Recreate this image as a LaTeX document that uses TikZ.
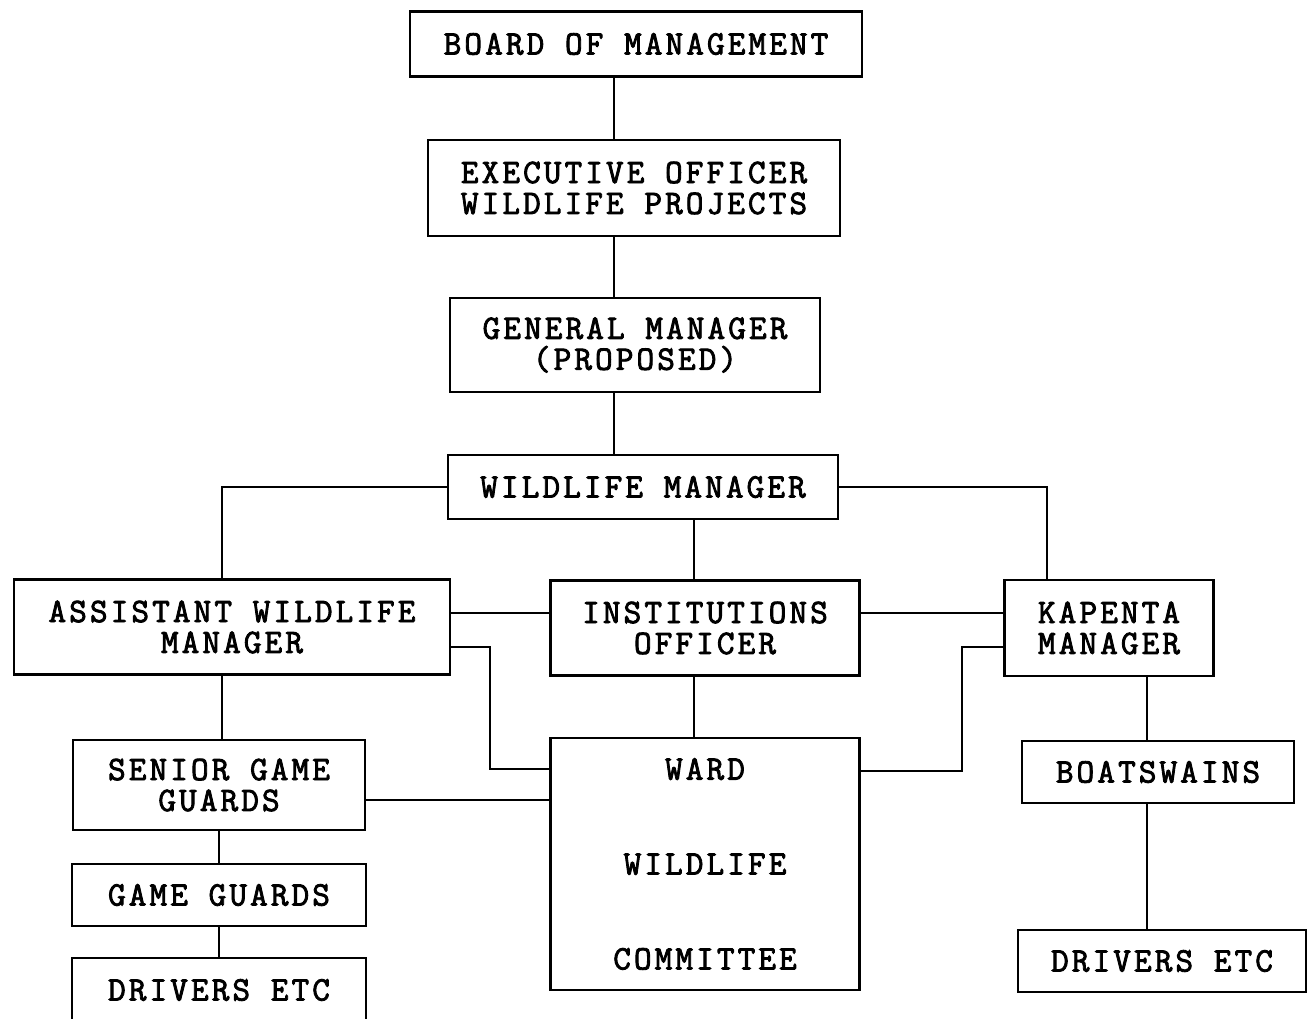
\documentclass[tikz,border=0pt]{standalone}
\usepackage{fontspec}
\newfontfamily\typewriter{Latin Modern Mono}[LetterSpace=9, FakeBold=2.5]
\newcommand{\chartfont}{\typewriter\fontsize{19.5}{17.6}\selectfont}

\begin{document}
\begin{tikzpicture}[
        x=0.02cm, y=-0.02cm,
        line width=1.2pt,
        box/.style = {rectangle, draw, inner sep=0pt, align=center, font=\chartfont}
    ]
    \useasboundingbox (0,0) rectangle (1311,1018);

    % Top of the chain
    \node[box, minimum width=9.04cm, minimum height=1.3cm] (board) at (636,44) {BOARD OF MANAGEMENT};
    \node[box, minimum width=8.24cm, minimum height=1.92cm] (exec) at (634,188) {EXECUTIVE OFFICER\\WILDLIFE PROJECTS};
    \node[box, minimum width=7.4cm, minimum height=1.88cm] (gm) at (635,345) {GENERAL MANAGER\\(PROPOSED)};
    \node[box, minimum width=7.8cm, minimum height=1.28cm] (wm) at (643,487) {WILDLIFE MANAGER};

    % Second tier
    \node[box, minimum width=8.72cm, minimum height=1.9cm] (awm) at (232,627) {ASSISTANT WILDLIFE\\MANAGER};
    \node[box, minimum width=6.18cm, minimum height=1.9cm] (inst) at (705,628) {INSTITUTIONS\\OFFICER};
    \node[box, minimum width=4.18cm, minimum height=1.92cm] (kap) at (1109,628) {KAPENTA\\MANAGER};

    % Left column
    \node[box, minimum width=5.84cm, minimum height=1.8cm] (sgg) at (219,785) {SENIOR GAME\\GUARDS};
    \node[box, minimum width=5.88cm, minimum height=1.24cm] (gg) at (219,895) {GAME GUARDS};
    \node[box, minimum width=5.88cm, minimum height=1.28cm] (drvl) at (219,990) {DRIVERS ETC};

    % Committee
    \node[box, minimum width=6.18cm, minimum height=5.04cm] (ward) at (705,864) {WARD\\[1.28cm]WILDLIFE\\[1.28cm]COMMITTEE};

    % Right column
    \node[box, minimum width=5.44cm, minimum height=1.24cm] (boat) at (1158,772) {BOATSWAINS};
    \node[box, minimum width=5.76cm, minimum height=1.24cm] (drvr) at (1162,961) {DRIVERS ETC};

    % Helper coordinates for the connector runs
    \coordinate (spine) at (614,0);
    \coordinate (lcol) at (222,0);
    \coordinate (rcol) at (1047,0);
    \coordinate (mcol) at (694,0);
    \coordinate (bcol) at (1147,0);
    \coordinate (tier) at (0,613);
    \coordinate (sfoot) at (0,800);
    \coordinate (lhook) at (490,647);
    \coordinate (lfoot) at (490,769);
    \coordinate (rhook) at (962,647);
    \coordinate (rfoot) at (962,771);

    % Connectors
    \draw (board.south -| spine) -- (exec.north -| spine);
    \draw (exec.south -| spine) -- (gm.north -| spine);
    \draw (gm.south -| spine) -- (wm.north -| spine);
    \draw (wm.west) -| (awm.north -| lcol);
    \draw (wm.east) -| (kap.north -| rcol);
    \draw (wm.south -| mcol) -- (inst.north -| mcol);
    \draw (awm.east |- tier) -- (inst.west |- tier);
    \draw (inst.east |- tier) -- (kap.west |- tier);
    \draw (awm.east |- lhook) -| (lfoot) -- (ward.west |- lfoot);
    \draw (kap.west |- rhook) -| (rfoot) -- (ward.east |- rfoot);
    \draw (inst.south -| mcol) -- (ward.north -| mcol);
    \draw (awm.south -| lcol) -- (sgg.north -| lcol);
    \draw (sgg.east |- sfoot) -- (ward.west |- sfoot);
    \draw (sgg) -- (gg);
    \draw (gg) -- (drvl);
    \draw (kap.south -| bcol) -- (boat.north -| bcol);
    \draw (boat.south -| bcol) -- (drvr.north -| bcol);
\end{tikzpicture}
\end{document}
